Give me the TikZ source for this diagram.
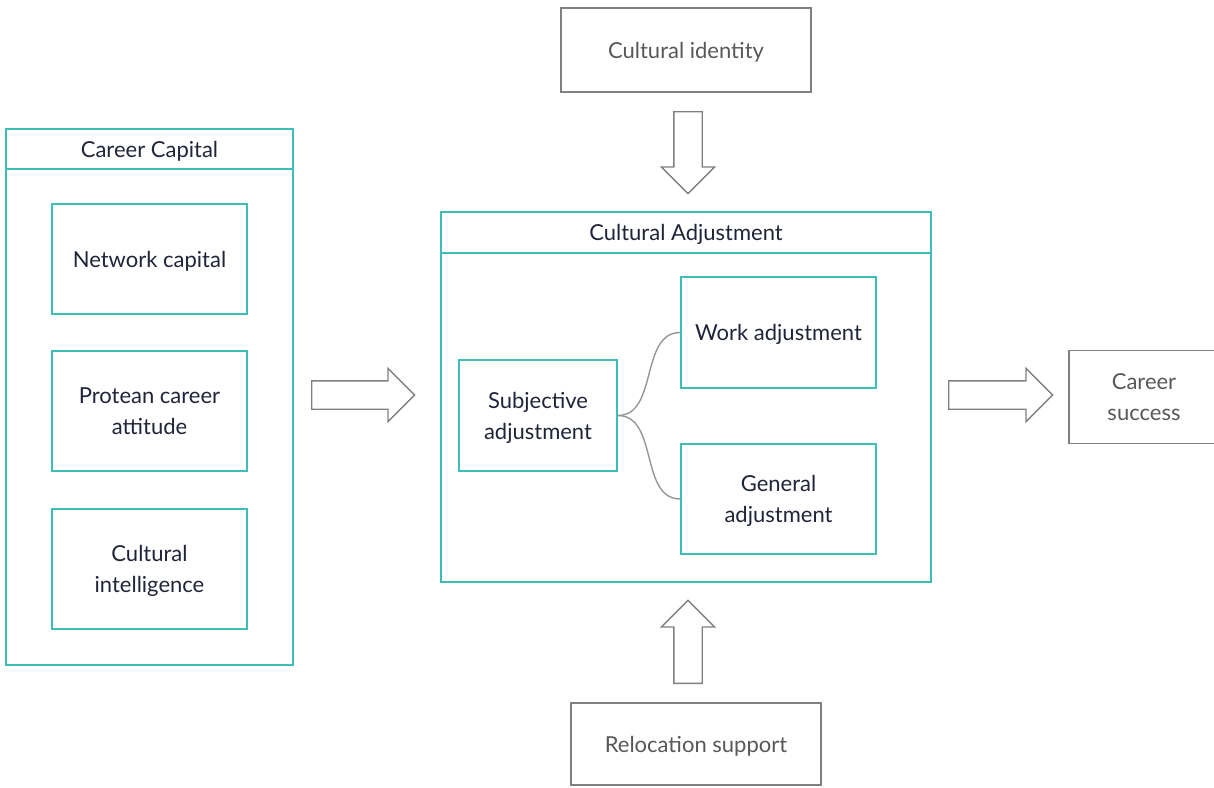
\documentclass[tikz,border=0pt]{standalone}
\usepackage{fontspec}
\setmainfont{Lato}
\usepackage{tikz}
\usetikzlibrary{shapes.arrows}
\definecolor{boxteal}{RGB}{62,190,184}
\definecolor{boxgrey}{RGB}{128,128,128}
\definecolor{linkgrey}{RGB}{150,150,150}
\definecolor{inkdark}{RGB}{32,36,56}
\definecolor{inkgrey}{RGB}{88,88,88}

\begin{document}
\begin{tikzpicture} [x=1pt,y=-1pt,every node/.style={align=center,inner sep=0pt,text depth=0pt,font=\fontsize{22}{31}\selectfont},
	tealbox/.style={draw=boxteal,line width=1.6pt,text=inkdark},
	greybox/.style={draw=boxgrey,line width=1.5pt,text=inkgrey},
	blockarrow/.style={single arrow,draw=boxgrey,line width=1.4pt,inner sep=13.5pt,minimum width=52pt,single arrow head extend=12.5pt,single arrow tip angle=90,anchor=tail},
	branch/.style={draw=linkgrey,line width=1.4pt}]
			\useasboundingbox (0,0) rectangle (1214,787);

			\node [tealbox,minimum width=287pt,minimum height=40pt] (capitalhead) at (149.5,149) {Career Capital};
			\node [tealbox,minimum width=287pt,minimum height=496pt] (capital) at (149.5,417) {};
			\node [tealbox,minimum width=195pt,minimum height=110pt] (network) at (149.5,259) {Network capital};
			\node [tealbox,minimum width=195pt,minimum height=120pt] (protean) at (149.5,411) {Protean career\\attitude};
			\node [tealbox,minimum width=195pt,minimum height=120pt] (intelligence) at (149.5,569) {Cultural\\intelligence};

			\node [tealbox,minimum width=490pt,minimum height=41pt] (adjusthead) at (686,232.5) {Cultural Adjustment};
			\node [tealbox,minimum width=490pt,minimum height=329pt] (adjust) at (686,417.5) {};
			\node [tealbox,minimum width=158pt,minimum height=111pt] (subjective) at (538,415.5) {Subjective\\adjustment};
			\node [tealbox,minimum width=195pt,minimum height=111pt] (work) at (778.5,332.5) {Work adjustment};
			\node [tealbox,minimum width=195pt,minimum height=110pt] (general) at (778.5,499) {General\\adjustment};

			\node [greybox,minimum width=250pt,minimum height=84pt] (identity) at (686,50) {Cultural identity};
			\node [greybox,minimum width=250pt,minimum height=82pt] (relocation) at (696,744) {Relocation support};
			\node [greybox,minimum width=150pt,minimum height=93pt] (success) at (1144,397) {Career\\success};

			\node [blockarrow,minimum height=103pt] (capitalarrow) at (311,395) {};
			\node [blockarrow,minimum height=104pt] (successarrow) at (948,395) {};
			\node [blockarrow,minimum height=82pt,shape border rotate=270] (identityarrow) at (688,111) {};
			\node [blockarrow,minimum height=83pt,shape border rotate=90] (relocationarrow) at (688,684) {};

			\draw [branch] (subjective.east) to [out=0,in=180] (work.west);
			\draw [branch] (subjective.east) to [out=0,in=180] (general.west);
		\end{tikzpicture}
\end{document}
